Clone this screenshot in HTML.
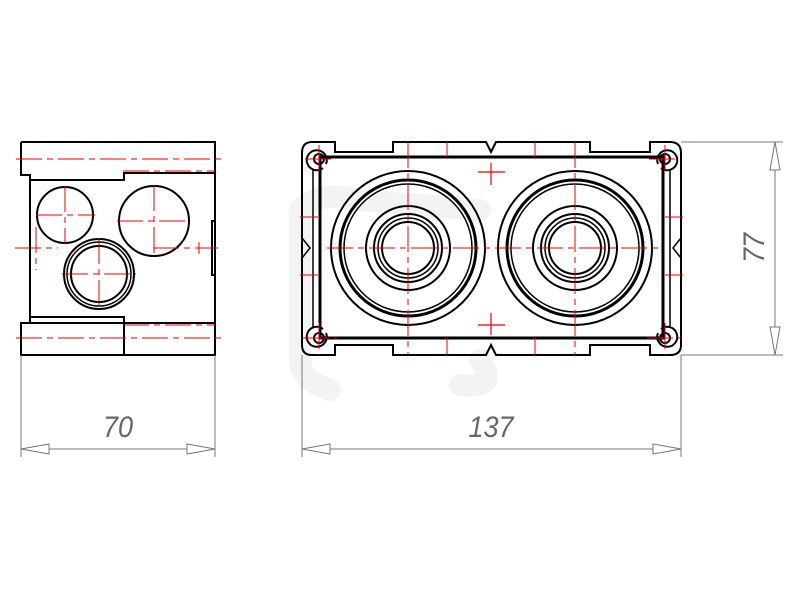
<!DOCTYPE html>
<html><head><style>html,body{margin:0;padding:0;background:#fff}svg{display:block}</style></head><body>
<svg width="800" height="600" viewBox="0 0 800 600" xmlns="http://www.w3.org/2000/svg">
<g fill="none" stroke="#f3f3f3" stroke-width="22" stroke-linecap="round">
<path d="M300 210 L300 360 Q300 380 330 390"/>
<path d="M300 210 Q320 190 360 200 L480 210"/>
<path d="M480 360 Q500 390 460 385"/>
</g>
<!-- LEFT VIEW -->
<g fill="none" stroke="#000" stroke-width="2">
<path d="M21 142 H215 V355 H21 V323 H124 V355"/>
<path d="M21 142 V175 H30 V323"/>
<path d="M30 180 H124 V173 H215"/>
<path d="M30 317 H124 V323 H215"/>
<rect x="212" y="221" width="3" height="54"/>
<circle cx="65" cy="215" r="28"/>
<circle cx="154" cy="221" r="35"/>
<circle cx="99" cy="274" r="35"/>
<circle cx="99" cy="274" r="32" stroke-width="1.5"/>
<circle cx="99" cy="274" r="28"/>
</g>
<g stroke="#e00" stroke-width="1" fill="none" stroke-dasharray="26,5,6,5">
<line x1="16" y1="159" x2="223" y2="159"/>
<line x1="16" y1="338" x2="223" y2="338"/>
<line x1="123" y1="171" x2="215" y2="171"/>
<line x1="123" y1="325" x2="215" y2="325"/>
<line x1="15" y1="248" x2="58" y2="248"/>
<line x1="36" y1="227" x2="36" y2="270"/>
<line x1="36" y1="215" x2="95" y2="215"/>
<line x1="65" y1="186" x2="65" y2="244"/>
<line x1="117" y1="221" x2="190" y2="221"/>
<line x1="154" y1="185" x2="154" y2="258"/>
<line x1="153" y1="248" x2="218" y2="248"/>
<line x1="199" y1="242" x2="199" y2="254"/>
<line x1="62" y1="274" x2="136" y2="274"/>
<line x1="99" y1="238" x2="99" y2="311"/>
</g>
<!-- RIGHT VIEW -->
<g fill="none" stroke="#000" stroke-width="2">
<path d="M312 142 H335 V152 H393 V142 H486 L491 152 L496 142 H590 V152 H650 V142 H670 Q681 142 681 153 V345 Q681 355 670 355 H650 V345 H590 V355 H496 L491 345 L486 355 H393 V345 H335 V355 H312 Q302 355 302 345 V153 Q302 142 312 142 Z"/>
<path d="M302 238 L310 248 L302 258" stroke-width="1.5"/>
<path d="M681 238 L673 248 L681 258" stroke-width="1.5"/>
<path d="M328 157 H663 V338 H320 V157 Z" stroke-width="3"/>
<line x1="313" y1="170" x2="313" y2="328" stroke-width="1.5"/>
<line x1="670" y1="170" x2="670" y2="328" stroke-width="1.5"/>
<circle cx="319" cy="159" r="5"/><path d="M326 164 A10 10 0 1 0 323 168"/>
<circle cx="665" cy="159" r="5"/><path d="M658 164 A10 10 0 1 1 661 168"/>
<circle cx="319" cy="338" r="5"/><path d="M326 333 A10 10 0 1 1 323 329"/>
<circle cx="665" cy="338" r="5"/><path d="M658 333 A10 10 0 1 0 661 329"/>
</g>
<g fill="none" stroke="#000">
<g id="gl" transform="translate(408,248)">
<circle r="77" stroke-width="2"/>
<circle r="68" stroke-width="3"/>
<circle r="64" stroke-width="1.5"/>
<circle r="42" stroke-width="2"/>
<circle r="34" stroke-width="2"/>
<circle r="30" stroke-width="1.5"/>
<circle r="26" stroke-width="2"/>
</g>
<use href="#gl" transform="translate(167,0)"/>
</g>
<g stroke="#e00" stroke-width="1" fill="none" stroke-dasharray="26,5,6,5">
<line x1="327" y1="248" x2="660" y2="248"/>
<line x1="408" y1="142" x2="408" y2="355"/>
<line x1="575" y1="142" x2="575" y2="355"/>
<line x1="447" y1="142" x2="447" y2="157"/>
<line x1="535" y1="142" x2="535" y2="157"/>
<line x1="447" y1="338" x2="447" y2="355"/>
<line x1="535" y1="338" x2="535" y2="355"/>
<line x1="305" y1="159" x2="335" y2="159"/>
<line x1="319" y1="145" x2="319" y2="175"/>
<line x1="649" y1="159" x2="680" y2="159"/>
<line x1="665" y1="145" x2="665" y2="175"/>
<line x1="303" y1="338" x2="337" y2="338"/>
<line x1="319" y1="323" x2="319" y2="355"/>
<line x1="647" y1="338" x2="681" y2="338"/>
<line x1="665" y1="323" x2="665" y2="355"/>
<line x1="300" y1="217" x2="318" y2="217"/><line x1="300" y1="275" x2="318" y2="275"/>
<line x1="665" y1="217" x2="683" y2="217"/><line x1="665" y1="275" x2="683" y2="275"/>
</g>
<g stroke="#e00" stroke-width="1.2">
<line x1="478" y1="172" x2="505" y2="172"/><line x1="491" y1="163" x2="491" y2="185"/>
<line x1="478" y1="325" x2="505" y2="325"/><line x1="491" y1="313" x2="491" y2="335"/>
</g>
<!-- DIMENSIONS -->
<g stroke="#777" stroke-width="1" fill="none">
<line x1="21" y1="355" x2="21" y2="457"/>
<line x1="215" y1="355" x2="215" y2="457"/>
<line x1="21" y1="449" x2="215" y2="449"/>
<path d="M21 449 L49 444 V454 Z M215 449 L187 444 V454 Z" fill="#fff"/>
<line x1="302" y1="355" x2="302" y2="457"/>
<line x1="681" y1="355" x2="681" y2="457"/>
<line x1="302" y1="449" x2="681" y2="449"/>
<path d="M302 449 L330 444 V454 Z M681 449 L653 444 V454 Z" fill="#fff"/>
<line x1="681" y1="142" x2="783" y2="142"/>
<line x1="681" y1="355" x2="783" y2="355"/>
<line x1="775" y1="142" x2="775" y2="355"/>
<path d="M775 142 L770 170 H780 Z M775 355 L770 327 H780 Z" fill="#fff"/>
</g>
<g font-family="Liberation Sans, sans-serif" font-style="italic" font-size="30" fill="#666" text-anchor="middle" transform="">
<text x="118" y="437" transform="translate(118,437) scale(0.9,1) translate(-118,-437)">70</text>
<text x="491" y="437" transform="translate(491,437) scale(0.9,1) translate(-491,-437)">137</text>
<text x="0" y="0" transform="translate(764,248) rotate(-90) scale(0.9,1)">77</text>
</g>
</svg>
</body></html>
